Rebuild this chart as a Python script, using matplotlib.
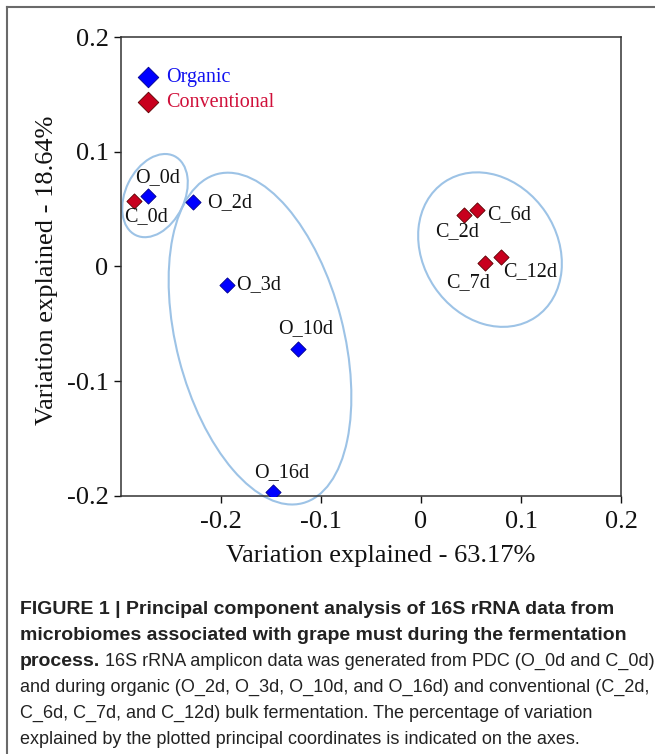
import matplotlib
matplotlib.use('Agg')
import matplotlib.pyplot as plt
from matplotlib.patches import Ellipse
from matplotlib.lines import Line2D
from matplotlib.transforms import Affine2D
from matplotlib import font_manager

# scores on the first two principal coordinates
organic_names = ['O_0d', 'O_2d', 'O_3d', 'O_10d', 'O_16d']
organic_pc1 = [-0.273, -0.228, -0.194, -0.123, -0.148]
organic_pc2 = [0.061, 0.056, -0.016, -0.072, -0.197]

conv_names = ['C_0d', 'C_2d', 'C_6d', 'C_7d', 'C_12d']
conv_pc1 = [-0.287, 0.043, 0.056, 0.064, 0.080]
conv_pc2 = [0.057, 0.045, 0.049, 0.003, 0.008]

xticks = [-0.2, -0.1, 0, 0.1, 0.2]
yticks = [-0.2, -0.1, 0, 0.1, 0.2]
xlabel = 'Variation explained - 63.17%'
ylabel = 'Variation explained - 18.64%'

# hand drawn group outlines: centre x, centre y, minor, major, tilt (deg)
ell_cx = [-0.266, -0.161, 0.069]
ell_cy = [0.0617, -0.063, 0.0146]
ell_minor = [0.059, 0.167, 0.134]
ell_major = [0.088, 0.340, 0.163]
ell_tilt = [-26, 14.5, 34]

# label offsets in pixels: dx, dy, ha
offsets = {
    'O_0d': (10, 19, 'center'), 'C_0d': (12, -16, 'center'),
    'O_2d': (14, 0, 'left'), 'O_3d': (9, 0, 'left'),
    'O_10d': (8, 20, 'center'), 'O_16d': (9, 20, 'center'),
    'C_2d': (-7, -17, 'center'), 'C_6d': (10, -4, 'left'),
    'C_7d': (-17, -20, 'center'), 'C_12d': (2, -14, 'left'),
}

caption = [
    [('FIGURE 1 | Principal component analysis of 16S rRNA data from', 'bold')],
    [('microbiomes associated with grape must during the fermentation', 'bold')],
    [('process.', 'bold'), (' 16S rRNA amplicon data was generated from PDC (O_0d and C_0d)', 'normal')],
    [('and during organic (O_2d, O_3d, O_10d, and O_16d) and conventional (C_2d,', 'normal')],
    [('C_6d, C_7d, and C_12d) bulk fermentation. The percentage of variation', 'normal')],
    [('explained by the plotted principal coordinates is indicated on the axes.', 'normal')],
]

W, H = 655, 754
serif = 'Liberation Serif'
names = {f.name for f in font_manager.fontManager.ttflist}
if 'Liberation Sans Narrow' in names:
    cap_font, cap_sizes = 'Liberation Sans Narrow', {'bold': 17.0, 'normal': 15.8}
else:
    cap_font, cap_sizes = 'Liberation Sans', {'bold': 14.0, 'normal': 12.95}

fig = plt.figure(figsize=(W / 100, H / 100), dpi=100)
ax = fig.add_axes([121 / W, 1 - 495.7 / H, 500 / W, 458.7 / H])

blue, blue_edge = '#0000ff', '#00008b'
red, red_edge = '#c8001e', '#5a0000'

ax.scatter(organic_pc1, organic_pc2, marker='D', s=60, color=blue, edgecolor=blue_edge, linewidth=0.6, zorder=3)
ax.scatter(conv_pc1, conv_pc2, marker='D', s=60, color=red, edgecolor=red_edge, linewidth=0.6, zorder=3)

for nm, x, y in zip(organic_names + conv_names, organic_pc1 + conv_pc1, organic_pc2 + conv_pc2):
    dx, dy, ha = offsets[nm]
    ax.annotate(nm, (x, y), xytext=(dx, dy), textcoords='offset pixels', ha=ha, va='center',
                fontsize=14.5, family=serif, color='#111111', zorder=4)

ax.set_xlim(-0.3, 0.2)
ax.set_ylim(-0.2, 0.2)

# outlines drawn in a space where one unit is the same length on both axes
ratio = (458.7 / 0.4) / (500 / 0.5)
iso = Affine2D().scale(1, 1 / ratio) + ax.transData
for cx, cy, w, h, a in zip(ell_cx, ell_cy, ell_minor, ell_major, ell_tilt):
    ax.add_patch(Ellipse((cx, cy * ratio), w, h, angle=a, fill=False, edgecolor='#9dc3e6',
                         linewidth=1.5, transform=iso, zorder=2, clip_on=False))

ax.set_xticks(xticks)
ax.set_xticklabels(['%g' % t for t in xticks])
ax.set_yticks(yticks)
ax.set_yticklabels(['%g' % t for t in yticks])
ax.tick_params(direction='out', length=5, width=1, labelsize=19, colors='#111111')
ax.tick_params(axis='x', pad=6)
ax.tick_params(axis='y', pad=4)
for lab in ax.get_xticklabels() + ax.get_yticklabels():
    lab.set_family(serif)
for sp in ax.spines.values():
    sp.set_linewidth(1.1)
    sp.set_color('#333333')

fig.text(381 / W, 1 - 556 / H, xlabel, ha='center', va='center', fontsize=19, family=serif, color='#111111')
fig.text(46.7 / W, 1 - 270 / H, ylabel, ha='center', va='center', rotation=90, fontsize=19, family=serif, color='#111111')

# legend
ax.scatter([-0.273], [0.165], marker='D', s=110, color=blue, edgecolor=blue_edge, linewidth=0.6)
ax.scatter([-0.273], [0.143], marker='D', s=110, color=red, edgecolor=red_edge, linewidth=0.6)
ax.text(-0.255, 0.165, 'Organic', color='#1010f0', fontsize=14.5, family=serif, va='center')
ax.text(-0.255, 0.143, 'Conventional', color='#d0103a', fontsize=14.5, family=serif, va='center')

# outer frame
fig.add_artist(Line2D([7 / W, 7 / W], [0, 1 - 7 / H], color='#6a6a6a', linewidth=1.5))
fig.add_artist(Line2D([7 / W, 1], [1 - 7 / H, 1 - 7 / H], color='#6a6a6a', linewidth=1.5))

renderer = fig.canvas.get_renderer()
base = 614
for i, parts in enumerate(caption):
    x = 20
    y = 1 - (base + 26 * i) / H
    for txt, wt in parts:
        t = fig.text(x / W, y, txt, fontsize=cap_sizes[wt], family=cap_font, weight=wt,
                     color='#222222', va='baseline', ha='left')
        x = t.get_window_extent(renderer).x1

fig.savefig('out.png', dpi=100)
